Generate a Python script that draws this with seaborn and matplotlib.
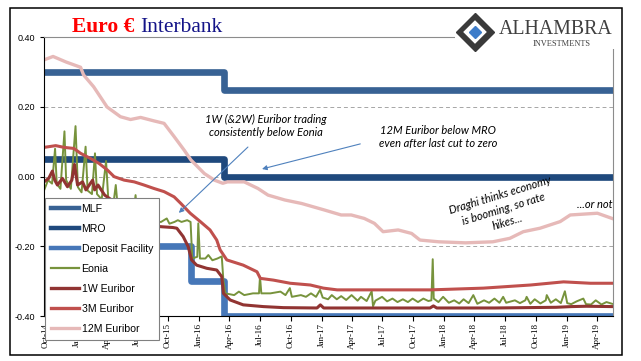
import pandas as pd
import matplotlib
matplotlib.use('Agg')
import matplotlib.pyplot as plt
import matplotlib.dates as mdates
import matplotlib.ticker as mticker
from matplotlib.patches import Rectangle
from matplotlib.lines import Line2D
import seaborn as sns

plt.rcParams['axes.unicode_minus'] = False

# ECB policy rates (dates of change, step-post)
mlf_dates = ['2014-09-26', '2016-03-16', '2019-05-18']
mlf_vals = [0.30, 0.25, 0.25]
mro_dates = ['2014-09-26', '2016-03-16', '2019-05-18']
mro_vals = [0.05, 0.00, 0.00]
depo_dates = ['2014-09-26', '2015-12-09', '2016-03-16', '2019-05-18']
depo_vals = [-0.20, -0.30, -0.40, -0.40]

# Eonia (incl. month-end spikes)
eonia_dates = [
    '2014-09-26', '2014-10-08', '2014-10-20', '2014-10-29', '2014-11-03', '2014-11-14',
    '2014-11-26', '2014-12-01', '2014-12-15', '2014-12-29', '2015-01-05', '2015-01-16',
    '2015-01-28', '2015-02-03', '2015-02-16', '2015-02-25', '2015-03-03', '2015-03-17',
    '2015-03-30', '2015-04-06', '2015-04-20', '2015-04-28', '2015-05-05', '2015-05-20',
    '2015-05-29', '2015-06-05', '2015-06-18', '2015-06-26', '2015-07-02', '2015-07-20',
    '2015-07-31', '2015-08-07', '2015-08-25', '2015-09-10', '2015-09-27', '2015-10-05',
    '2015-10-20', '2015-10-30', '2015-11-10', '2015-11-27', '2015-12-07', '2015-12-12',
    '2015-12-27', '2015-12-30', '2016-01-04', '2016-01-20', '2016-01-29', '2016-02-10',
    '2016-02-25', '2016-03-09', '2016-03-14', '2016-03-20', '2016-04-15', '2016-04-29',
    '2016-05-15', '2016-06-10', '2016-06-28', '2016-07-01', '2016-07-05', '2016-08-01',
    '2016-08-31', '2016-09-15', '2016-09-28', '2016-10-04', '2016-10-31', '2016-11-15',
    '2016-11-30', '2016-12-15', '2016-12-27', '2017-01-04', '2017-01-20', '2017-01-31',
    '2017-02-15', '2017-02-28', '2017-03-15', '2017-03-31', '2017-04-18', '2017-04-28',
    '2017-05-15', '2017-05-30', '2017-06-03', '2017-06-10', '2017-06-30', '2017-07-15',
    '2017-07-31', '2017-08-15', '2017-08-31', '2017-09-15', '2017-09-29', '2017-10-15',
    '2017-10-31', '2017-11-15', '2017-11-24', '2017-11-28', '2017-12-01', '2017-12-15',
    '2017-12-29', '2018-01-15', '2018-01-31', '2018-02-15', '2018-02-28', '2018-03-15',
    '2018-03-29', '2018-04-10', '2018-04-30', '2018-05-15', '2018-05-31', '2018-06-15',
    '2018-06-26', '2018-07-05', '2018-07-31', '2018-08-15', '2018-08-31', '2018-09-04',
    '2018-09-15', '2018-09-28', '2018-10-15', '2018-10-31', '2018-11-03', '2018-11-15',
    '2018-11-30', '2018-12-15', '2018-12-27', '2019-01-03', '2019-01-15', '2019-01-31',
    '2019-02-20', '2019-02-28', '2019-03-15', '2019-03-29', '2019-04-15', '2019-04-30',
    '2019-05-17']
eonia_vals = [
    -0.040, -0.010, -0.020, 0.080, -0.020, -0.035,
    0.130, -0.010, -0.035, 0.145, -0.030, -0.045,
    0.086, -0.040, -0.050, 0.067, -0.050, -0.065,
    0.045, -0.070, -0.085, -0.024, -0.100, -0.110,
    -0.080, -0.115, -0.120, -0.053, -0.120, -0.125,
    -0.100, -0.130, -0.130, -0.130, -0.120, -0.135,
    -0.130, -0.125, -0.130, -0.125, -0.130, -0.235,
    -0.230, -0.134, -0.235, -0.235, -0.225, -0.240,
    -0.235, -0.229, -0.300, -0.335, -0.340, -0.330,
    -0.340, -0.335, -0.335, -0.287, -0.335, -0.335,
    -0.330, -0.340, -0.320, -0.345, -0.340, -0.345,
    -0.335, -0.345, -0.325, -0.347, -0.352, -0.340,
    -0.352, -0.343, -0.354, -0.340, -0.356, -0.345,
    -0.357, -0.329, -0.372, -0.356, -0.345, -0.358,
    -0.350, -0.360, -0.352, -0.360, -0.350, -0.360,
    -0.350, -0.357, -0.355, -0.237, -0.350, -0.360,
    -0.345, -0.362, -0.355, -0.364, -0.352, -0.363,
    -0.340, -0.365, -0.355, -0.362, -0.350, -0.362,
    -0.345, -0.362, -0.355, -0.363, -0.355, -0.345,
    -0.365, -0.352, -0.364, -0.355, -0.340, -0.362,
    -0.352, -0.363, -0.329, -0.363, -0.366, -0.358,
    -0.350, -0.366, -0.367, -0.355, -0.367, -0.360,
    -0.365]

# 1W Euribor
w1_dates = [
    '2014-09-26', '2014-10-10', '2014-10-21', '2014-10-28', '2014-11-05', '2014-11-20',
    '2014-12-05', '2014-12-18', '2014-12-26', '2015-01-04', '2015-01-19', '2015-01-29',
    '2015-02-18', '2015-02-24', '2015-03-06', '2015-03-26', '2015-04-20', '2015-05-20',
    '2015-06-20', '2015-07-20', '2015-08-20', '2015-09-15', '2015-10-15', '2015-10-27',
    '2015-11-15', '2015-11-30', '2015-12-10', '2015-12-25', '2016-01-24', '2016-02-23',
    '2016-03-09', '2016-03-14', '2016-04-03', '2016-05-12', '2016-07-11', '2016-09-09',
    '2016-12-18', '2016-12-28', '2017-01-07', '2017-03-30', '2017-11-20', '2017-11-30',
    '2017-12-10', '2018-06-01', '2018-12-01', '2019-01-15', '2019-03-01', '2019-05-17']
w1_vals = [
    -0.015, -0.005, 0.016, -0.010, -0.024, -0.005,
    -0.029, -0.010, 0.035, -0.024, -0.015, -0.038,
    -0.010, -0.038, -0.024, -0.053, -0.070, -0.100,
    -0.120, -0.130, -0.142, -0.144, -0.146, -0.148,
    -0.172, -0.201, -0.239, -0.254, -0.263, -0.268,
    -0.287, -0.335, -0.354, -0.368, -0.373, -0.376,
    -0.377, -0.368, -0.377, -0.377, -0.377, -0.371,
    -0.377, -0.377, -0.375, -0.373, -0.372, -0.373]

# 3M Euribor
m3_dates = [
    '2014-09-26', '2014-10-31', '2014-11-25', '2014-12-24', '2015-01-13', '2015-02-12',
    '2015-03-09', '2015-04-03', '2015-04-23', '2015-05-23', '2015-06-22', '2015-07-21',
    '2015-08-20', '2015-09-19', '2015-10-19', '2015-11-08', '2015-12-06', '2016-01-05',
    '2016-02-03', '2016-02-23', '2016-03-04', '2016-03-24', '2016-05-12', '2016-06-22',
    '2016-07-02', '2016-08-10', '2016-09-29', '2016-11-28', '2017-01-06', '2017-02-16',
    '2017-11-22', '2018-04-28', '2018-09-16', '2018-12-23', '2019-03-13', '2019-05-17']
m3_vals = [
    0.084, 0.089, 0.084, 0.081, 0.067, 0.052,
    0.038, 0.019, 0.000, -0.010, -0.015, -0.024,
    -0.034, -0.043, -0.058, -0.077, -0.105, -0.129,
    -0.153, -0.182, -0.210, -0.239, -0.254, -0.273,
    -0.292, -0.297, -0.306, -0.311, -0.320, -0.325,
    -0.325, -0.320, -0.311, -0.302, -0.306, -0.306]

# 12M Euribor
m12_dates = [
    '2014-09-23', '2014-10-23', '2014-12-01', '2015-01-13', '2015-01-22', '2015-02-21',
    '2015-04-02', '2015-05-12', '2015-06-11', '2015-07-11', '2015-08-20', '2015-09-19',
    '2015-10-19', '2015-11-18', '2015-12-08', '2016-01-17', '2016-02-16', '2016-03-12',
    '2016-03-26', '2016-05-15', '2016-06-25', '2016-07-25', '2016-09-13', '2016-11-02',
    '2017-01-10', '2017-02-28', '2017-03-30', '2017-05-08', '2017-06-07', '2017-07-03',
    '2017-08-17', '2017-09-26', '2017-10-21', '2017-12-16', '2018-03-06', '2018-05-26',
    '2018-07-16', '2018-08-25', '2018-10-14', '2018-12-13', '2019-01-12', '2019-04-03',
    '2019-05-17']
m12_vals = [
    0.334, 0.345, 0.329, 0.314, 0.292, 0.258,
    0.200, 0.172, 0.164, 0.170, 0.160, 0.153,
    0.115, 0.076, 0.048, 0.009, -0.010, -0.019,
    -0.015, -0.015, -0.034, -0.053, -0.067, -0.077,
    -0.096, -0.110, -0.110, -0.120, -0.134, -0.158,
    -0.153, -0.163, -0.182, -0.187, -0.190, -0.187,
    -0.177, -0.158, -0.148, -0.129, -0.110, -0.105,
    -0.120]

tick_dates = pd.date_range('2014-10-01', '2019-04-01', freq='QS-OCT')

col_mlf = '#386294'
col_mro = '#1F497D'
col_depo = '#4677B8'
col_eonia = '#77933C'
col_w1 = '#913432'
col_m3 = '#C0504D'
col_m12 = '#E6B9B8'

fig = plt.figure(figsize=(6.41, 3.61), dpi=100)
ax = fig.add_axes([44 / 641, 1 - 316 / 361, 568.5 / 641, 278.7 / 361])

# policy rates as steps
step_kw = dict(drawstyle='steps-post', solid_joinstyle='round', lw=4.8)
sns.lineplot(x=pd.to_datetime(mlf_dates), y=mlf_vals, color=col_mlf, ax=ax, **step_kw)
sns.lineplot(x=pd.to_datetime(mro_dates), y=mro_vals, color=col_mro, ax=ax, **step_kw)
sns.lineplot(x=pd.to_datetime(depo_dates), y=depo_vals, color=col_depo, ax=ax, **step_kw)

# market rates
sns.lineplot(x=pd.to_datetime(eonia_dates), y=eonia_vals, color=col_eonia, lw=1.4, ax=ax)
sns.lineplot(x=pd.to_datetime(w1_dates), y=w1_vals, color=col_w1, lw=2.2, ax=ax)
sns.lineplot(x=pd.to_datetime(m3_dates), y=m3_vals, color=col_m3, lw=2.2, ax=ax)
sns.lineplot(x=pd.to_datetime(m12_dates), y=m12_vals, color=col_m12, lw=2.4, ax=ax)

ax.set_xlim(pd.Timestamp('2014-09-26'), pd.Timestamp('2019-05-18'))
ax.set_ylim(-0.40, 0.40)
ax.set_xlabel('')
ax.set_ylabel('')

ax.set_xticks(tick_dates)
ax.xaxis.set_major_formatter(mdates.DateFormatter('%b-%y'))
ax.set_yticks([-0.40, -0.20, 0.00, 0.20, 0.40])
ax.yaxis.set_major_formatter(mticker.FuncFormatter(lambda v, p: f'{v:.2f}'))
for lab in ax.get_xticklabels():
    lab.set_family('Liberation Serif')
    lab.set_rotation(90)
    lab.set_fontsize(6.5)
for lab in ax.get_yticklabels():
    lab.set_family('Liberation Sans')
    lab.set_fontsize(6.5)
ax.tick_params(axis='x', length=3.5, width=0.8, pad=1.5, direction='out')
ax.tick_params(axis='y', length=3, width=0.8, pad=3.5, direction='out')

for y in [-0.20, 0.00, 0.20]:
    ax.axhline(y, color='#A6A6A6', lw=0.7, ls=(0, (4, 3)), zorder=0)
ax.spines['left'].set_color('black')
ax.spines['bottom'].set_color('black')
ax.spines['top'].set_color('#8C8C8C')
ax.spines['right'].set_color('#8C8C8C')
for s in ax.spines.values():
    s.set_linewidth(0.8)

handles = [
    Line2D([], [], color=col_mlf, lw=3.2),
    Line2D([], [], color=col_mro, lw=3.2),
    Line2D([], [], color=col_depo, lw=3.2),
    Line2D([], [], color=col_eonia, lw=1.6),
    Line2D([], [], color=col_w1, lw=2.4),
    Line2D([], [], color=col_m3, lw=2.4),
    Line2D([], [], color=col_m12, lw=2.4),
]
labels = ['MLF', 'MRO', 'Deposit Facility', 'Eonia', '1W Euribor', '3M Euribor', '12M Euribor']
leg = ax.legend(handles, labels, loc='upper left', bbox_to_anchor=(0.002, 0.424),
                prop={'family': 'Liberation Sans', 'size': 7.6}, frameon=True,
                fancybox=False, framealpha=1, edgecolor='#808080', borderpad=0.55,
                labelspacing=0.95, handlelength=2.7, handletextpad=0.2, borderaxespad=0)
leg.get_frame().set_linewidth(0.8)

# annotations
def d(s):
    return mdates.date2num(pd.Timestamp(s))

note_font = dict(family='Lato', style='italic', size=8, color='black')
arrow_kw = dict(arrowstyle='-|>', color='#4F81BD', lw=0.8, mutation_scale=7,
                shrinkA=0, shrinkB=0)
ax.text(d('2016-07-19'), 0.145, '1W (&2W) Euribor trading\nconsistently below Eonia',
        ha='center', va='center', linespacing=1.25, **note_font)
ax.annotate('', xy=(d('2015-11-02'), -0.104), xytext=(d('2016-05-26'), 0.085),
            arrowprops=arrow_kw)
ax.text(d('2017-12-15'), 0.114, '12M Euribor below MRO\neven after last cut to zero',
        ha='center', va='center', linespacing=1.25, **note_font)
ax.annotate('', xy=(d('2016-07-07'), 0.022), xytext=(d('2017-04-26'), 0.094),
            arrowprops=arrow_kw)
ax.text(d('2018-06-28'), -0.092, 'Draghi thinks economy\nis booming, so rate\nhikes...',
        ha='center', va='center', rotation=17, rotation_mode='anchor',
        multialignment='center', linespacing=1.35, **note_font)
ax.text(d('2019-02-01'), -0.081, '...or not', ha='left', va='center', clip_on=True,
        **note_font)

# outer frame
fig.add_artist(Rectangle((9.5 / 641, 1 - 355 / 361), 612.5 / 641, 347 / 361,
                         transform=fig.transFigure, fill=False, edgecolor='black',
                         lw=1.1, zorder=10))

# title, two colours
fig.text(72 / 641, 1 - 31.7 / 361, 'Euro \u20ac', color='#FF0000', fontsize=15.5,
         fontweight='bold', family='Liberation Serif', va='baseline')
fig.text(140 / 641, 1 - 31.7 / 361, 'Interbank', color='#141488', fontsize=15.5,
         family='Liberation Serif', va='baseline')

# logo block
fig.add_artist(Rectangle((455 / 641, 1 - 49 / 361), 166 / 641, 40 / 361,
                         transform=fig.transFigure, facecolor='white', edgecolor='none',
                         zorder=8))
fig.add_artist(Line2D([475 / 641], [1 - 32 / 361], marker='D', markersize=19,
                      markerfacecolor='#3A3A3A', markeredgecolor='#3A3A3A',
                      transform=fig.transFigure, zorder=9))
fig.add_artist(Line2D([475 / 641], [1 - 32 / 361], marker='D', markersize=13,
                      markerfacecolor='white', markeredgecolor='#3A3A3A', markeredgewidth=1.2,
                      transform=fig.transFigure, zorder=9))
fig.add_artist(Line2D([475 / 641], [1 - 32 / 361], marker='D', markersize=6,
                      markerfacecolor='#3D7CC9', markeredgecolor='#3D7CC9',
                      transform=fig.transFigure, zorder=9))
fig.text(499 / 641, 1 - 34 / 361, 'ALHAMBRA', color='#404040', fontsize=14.3,
         family='Liberation Serif', va='baseline', zorder=9)
fig.text(562 / 641, 1 - 46 / 361, 'INVESTMENTS', color='#404040', fontsize=6,
         family='Liberation Serif', va='baseline', ha='center', zorder=9)

fig.savefig('out.png', dpi=100)
